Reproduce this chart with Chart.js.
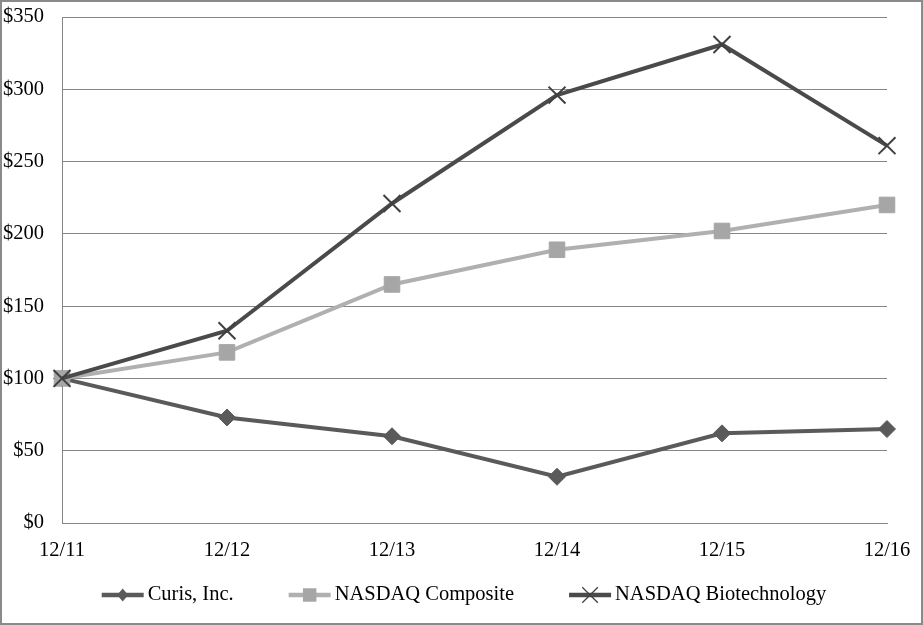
<!DOCTYPE html>
<html>
<head>
<meta charset="utf-8">
<script src="https://cdn.jsdelivr.net/npm/chart.js@4"></script>
<style>
    html, body { margin: 0; padding: 0; background: #fff; }
    #wrap { width: 923px; height: 625px; position: relative; }
</style>
</head>
<body>
<div id="wrap"><canvas id="chart"></canvas></div>
<script>
// Cumulative total return, $100 invested 12/11
const periods = ['12/11', '12/12', '12/13', '12/14', '12/15', '12/16'];
const curis = [100, 73, 60, 32, 62, 65];
const nasdaqComposite = [100, 118, 165, 189, 202, 220];
const nasdaqBiotech = [100, 133, 221, 296, 331, 261];
const yTickValues = [0, 50, 100, 150, 200, 250, 300, 350];

const FONT = '"Liberation Serif", "Times New Roman", serif';
const FONT_SIZE = 20.5;
const GRID = '#868686';

// small marker drawer for the legend (line + marker, like the original)
function drawMarker(ctx, style, x, y, r) {
    ctx.beginPath();
    if (style === 'rectRot') {
        ctx.moveTo(x - r * 0.85, y);
        ctx.lineTo(x, y - r);
        ctx.lineTo(x + r * 0.85, y);
        ctx.lineTo(x, y + r);
        ctx.closePath();
        ctx.fill();
    } else if (style === 'rect') {
        const s = r * Math.SQRT1_2;
        ctx.rect(x - s, y - s, 2 * s, 2 * s);
        ctx.fill();
    } else if (style === 'crossRot') {
        const s = r * Math.SQRT1_2;
        ctx.moveTo(x - s, y - s);
        ctx.lineTo(x + s, y + s);
        ctx.moveTo(x - s, y + s);
        ctx.lineTo(x + s, y - s);
        ctx.stroke();
    }
}

const lineLegend = {
    id: 'lineLegend',
    afterDraw(chart) {
        const ctx = chart.ctx;
        const items = chart.data.datasets;
        const lineLen = 42, gap = 4, spacing = 55;
        ctx.save();
        ctx.font = FONT_SIZE + 'px ' + FONT;
        const widths = items.map(ds => ctx.measureText(ds.label).width);
        const total = widths.reduce((a, w) => a + w + lineLen + gap, 0) + spacing * (items.length - 1);
        let x = 464 - total / 2;
        const y = 595;
        items.forEach((ds, i) => {
            ctx.strokeStyle = ds.borderColor;
            ctx.lineWidth = 4.5;
            ctx.beginPath();
            ctx.moveTo(x, y);
            ctx.lineTo(x + lineLen, y);
            ctx.stroke();

            ctx.fillStyle = ds.pointBackgroundColor;
            ctx.strokeStyle = ds.pointBorderColor;
            ctx.lineWidth = 1.3;
            drawMarker(ctx, ds.pointStyle, x + lineLen / 2, y, ds.legendRadius);

            ctx.fillStyle = '#000';
            ctx.textBaseline = 'middle';
            ctx.textAlign = 'left';
            ctx.fillText(ds.label, x + lineLen + gap, y);
            x += lineLen + gap + widths[i] + spacing;
        });

        // outer frame
        ctx.strokeStyle = '#8a8a8a';
        ctx.lineWidth = 2;
        ctx.strokeRect(1, 1, chart.width - 2, chart.height - 2);
        ctx.restore();
    }
};

new Chart(document.getElementById('chart'), {
    type: 'line',
    data: {
        labels: periods,
        datasets: [
            {
                label: 'Curis, Inc.',
                data: curis,
                borderColor: '#5a5a5a',
                borderWidth: 4,
                pointStyle: 'rectRot',
                pointRadius: 8.5,
                pointBackgroundColor: '#5a5a5a',
                pointBorderColor: '#5a5a5a',
                pointBorderWidth: 1,
                legendRadius: 6.5,
                tension: 0,
                order: 2,
            },
            {
                label: 'NASDAQ Composite',
                data: nasdaqComposite,
                borderColor: '#b0b0b0',
                borderWidth: 4,
                pointStyle: 'rect',
                pointRadius: 11,
                pointBackgroundColor: '#a6a6a6',
                pointBorderColor: '#a6a6a6',
                pointBorderWidth: 1,
                legendRadius: 9.5,
                tension: 0,
                order: 1,
            },
            {
                label: 'NASDAQ Biotechnology',
                data: nasdaqBiotech,
                borderColor: '#4a4a4a',
                borderWidth: 4,
                pointStyle: 'crossRot',
                pointRadius: 12,
                pointBackgroundColor: '#404040',
                pointBorderColor: '#404040',
                pointBorderWidth: 2,
                legendRadius: 11,
                tension: 0,
                order: 0,
            },
        ],
    },
    options: {
        responsive: true,
        maintainAspectRatio: false,
        animation: false,
        events: [],
        layout: { padding: { top: 17, right: 36, bottom: 60, left: 0 } },
        plugins: {
            legend: { display: false },
            tooltip: { enabled: false },
        },
        scales: {
            x: {
                offset: false,
                grid: { display: false, drawTicks: false },
                border: { display: true, color: GRID, width: 1 },
                ticks: {
                    color: '#000',
                    font: { family: FONT, size: FONT_SIZE },
                    padding: 15,
                    maxRotation: 0,
                    autoSkip: false,
                },
                afterFit: scale => {
                    scale.height = 42;
                    scale.paddingLeft = 0;
                    scale.paddingRight = 0;
                },
            },
            y: {
                min: 0,
                max: 350,
                afterBuildTicks: scale => {
                    scale.ticks = yTickValues.map(v => ({ value: v }));
                },
                grid: { color: GRID, lineWidth: 1, drawTicks: false },
                border: { display: true, color: GRID, width: 1 },
                ticks: {
                    color: '#000',
                    font: { family: FONT, size: FONT_SIZE },
                    padding: 18,
                    callback: v => '$' + v,
                },
                afterFit: scale => {
                    scale.width = 62;
                    scale.paddingTop = 0;
                    scale.paddingBottom = 0;
                },
            },
        },
    },
    plugins: [lineLegend],
});
</script>
</body>
</html>
